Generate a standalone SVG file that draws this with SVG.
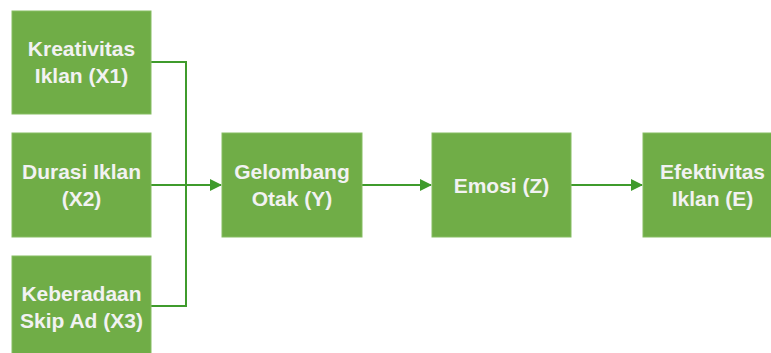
<svg xmlns="http://www.w3.org/2000/svg" width="771" height="353" viewBox="0 0 771 353">
  <style>
    .box { fill: #70ad47; stroke: #86bd63; stroke-width: 1; }
    .lbl { font-family: "Liberation Sans", Arial, sans-serif; font-weight: bold; font-size: 21px; fill: #f2f2f2; text-anchor: middle; }
    .wire { fill: none; stroke: #3f9b2c; stroke-width: 2; }
  </style>
  <defs>
    <marker id="arrow" viewBox="0 0 12 12" refX="11" refY="6" markerWidth="12" markerHeight="12" markerUnits="userSpaceOnUse" orient="auto">
      <path d="M0,0 L12,6 L0,12 Z" fill="#3f9b2c"/>
    </marker>
  </defs>
  <rect width="771" height="353" fill="#ffffff"/>

  <g id="connectors">
    <polyline class="wire" points="151,62 186,62 186,306 151,306"/>
    <line class="wire" x1="151" y1="185" x2="221" y2="185" marker-end="url(#arrow)"/>
    <line class="wire" x1="362" y1="185" x2="431" y2="185" marker-end="url(#arrow)"/>
    <line class="wire" x1="571" y1="185" x2="642" y2="185" marker-end="url(#arrow)"/>
  </g>

  <g id="x1">
    <rect class="box" x="12" y="11" width="139" height="103"/>
    <text class="lbl" x="81.5" y="56">Kreativitas</text>
    <text class="lbl" x="81.5" y="83">Iklan (X1)</text>
  </g>
  <g id="x2">
    <rect class="box" x="12" y="133" width="139" height="104"/>
    <text class="lbl" x="81.5" y="178.5">Durasi Iklan</text>
    <text class="lbl" x="81.5" y="205.5">(X2)</text>
  </g>
  <g id="x3">
    <rect class="box" x="12" y="256" width="139" height="104"/>
    <text class="lbl" x="81.5" y="301">Keberadaan</text>
    <text class="lbl" x="81.5" y="328">Skip Ad (X3)</text>
  </g>
  <g id="y">
    <rect class="box" x="222" y="133" width="140" height="104"/>
    <text class="lbl" x="292" y="178.5">Gelombang</text>
    <text class="lbl" x="292" y="205.5">Otak (Y)</text>
  </g>
  <g id="z">
    <rect class="box" x="432" y="133" width="139" height="104"/>
    <text class="lbl" x="501.5" y="193">Emosi (Z)</text>
  </g>
  <g id="e">
    <rect class="box" x="643" y="133" width="139" height="104"/>
    <text class="lbl" x="712.5" y="178.5">Efektivitas</text>
    <text class="lbl" x="712.5" y="205.5">Iklan (E)</text>
  </g>
</svg>
